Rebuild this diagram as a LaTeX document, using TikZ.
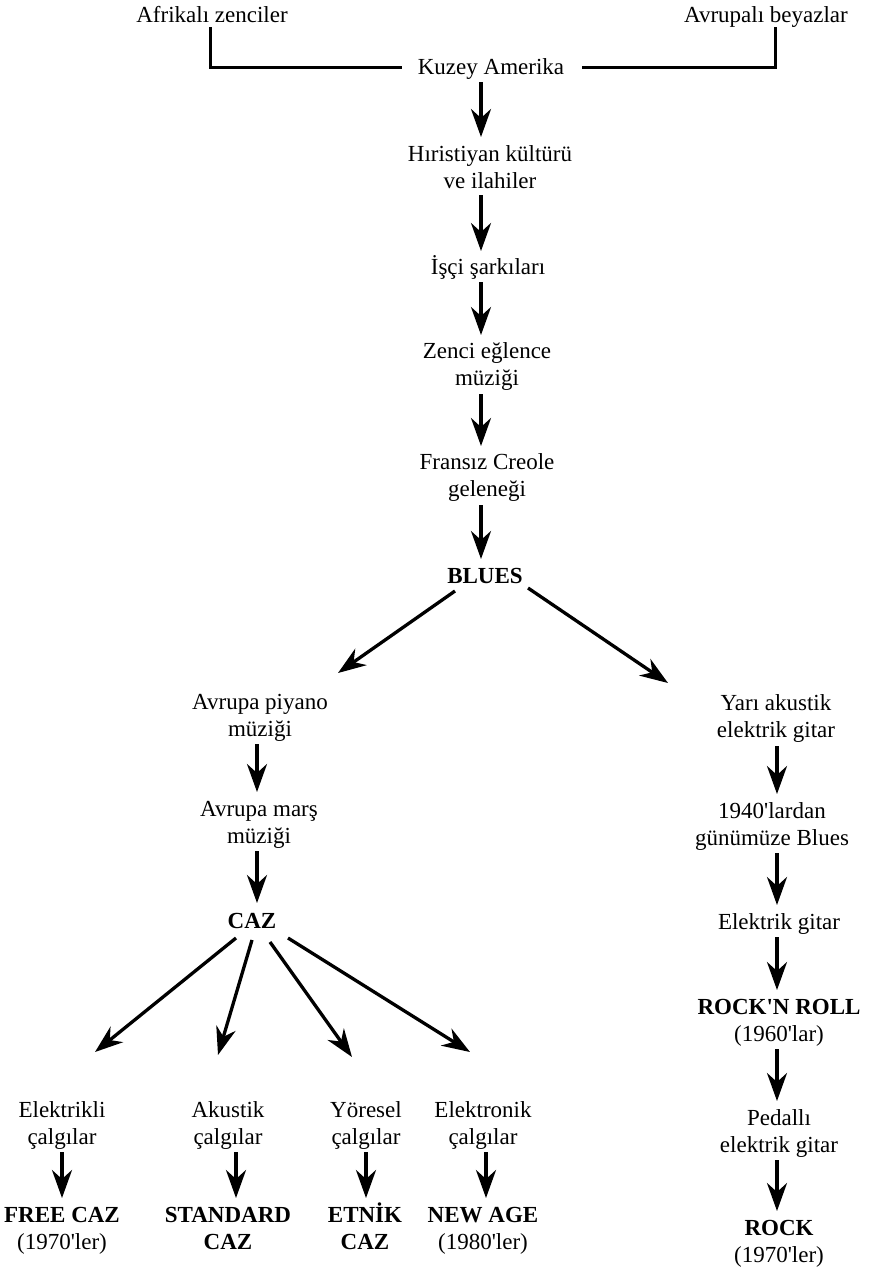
\documentclass[tikz,border=0pt]{standalone}
\usepackage{fontspec}
\newfontfamily\libserif{Liberation Serif}
\usetikzlibrary{arrows.meta}
\begin{document}
\begin{tikzpicture}[x=1pt,y=-1pt,
  font=\libserif\fontsize{23}{27.6}\selectfont,
  lbl/.style={inner sep=0pt, anchor=base, align=flush center},
  two/.style={lbl, text width=240pt},
  ln/.style={line width=3pt, line join=miter},
  arr/.style={line width=3.3pt, -{Stealth[length=28pt,width=20pt,inset=9pt]}}]
\fill[white] (0,0) rectangle (868,1283);
\useasboundingbox (0,0) rectangle (868,1283);
% top
\node[lbl] (afr) at (212,22) {Afrikalı zenciler};
\node[lbl] (avr) at (766,22) {Avrupalı beyazlar};
\node[lbl] (kuz) at (491,74) {Kuzey Amerika};
\draw[ln] ([shift={(-2,5)}]afr.base) |- ([shift={(-89,-7)}]kuz.base);
\draw[ln] ([shift={(91,-7)}]kuz.base) -| ([shift={(9,5)}]avr.base);
% main column
\node[two] (hir) at (490,161) {Hıristiyan kültürü\\ve ilahiler};
\node[lbl] (isci) at (488,274) {İşçi şarkıları};
\node[two] (zen) at (487,358) {Zenci eğlence\\müziği};
\node[two] (fra) at (487,469) {Fransız Creole\\geleneği};
\node[lbl] (blu) at (485,583) {\bfseries BLUES};
\draw[arr] ([shift={(-10,8)}]kuz.base) -- ([shift={(-9,-24)}]hir.base);
\draw[arr] ([shift={(-9,34)}]hir.base) -- ([shift={(-7,-23)}]isci.base);
\draw[arr] ([shift={(-7,8)}]isci.base) -- ([shift={(-6,-23)}]zen.base);
\draw[arr] ([shift={(-6,36)}]zen.base) -- ([shift={(-6,-23)}]fra.base);
\draw[arr] ([shift={(-6,36)}]fra.base) -- ([shift={(-4,-24)}]blu.base);
% left branch
\node[two] (piy) at (260,709) {Avrupa piyano\\müziği};
\node[two] (mar) at (259,816) {Avrupa marş\\müziği};
\node[lbl] (caz) at (252,928) {\bfseries CAZ};
\draw[arr] ([shift={(-30,8)}]blu.base) -- ([shift={(78,-36)}]piy.base);
\draw[arr] ([shift={(-3,35)}]piy.base) -- ([shift={(-2,-24)}]mar.base);
\draw[arr] ([shift={(-2,35)}]mar.base) -- ([shift={(5,-25)}]caz.base);
% right branch
\node[two] (yar) at (776,710) {Yarı akustik\\elektrik gitar};
\node[two] (b40) at (772,818) {1940'lardan\\günümüze Blues};
\node[lbl] (elg) at (779,929) {Elektrik gitar};
\node[two] (rnr) at (779,1014) {\textbf{ROCK'N ROLL}\\(1960'lar)};
\node[two] (ped) at (779,1125) {Pedallı\\elektrik gitar};
\node[two] (rock) at (779,1235) {\textbf{ROCK}\\(1970'ler)};
\draw[arr] ([shift={(43,5)}]blu.base) -- ([shift={(-108,-27)}]yar.base);
\draw[arr] ([shift={(1,36)}]yar.base) -- ([shift={(5,-24)}]b40.base);
\draw[arr] ([shift={(5,35)}]b40.base) -- ([shift={(-2,-24)}]elg.base);
\draw[arr] ([shift={(-2,8)}]elg.base) -- ([shift={(-2,-24)}]rnr.base);
\draw[arr] ([shift={(-2,35)}]rnr.base) -- ([shift={(-2,-24)}]ped.base);
\draw[arr] ([shift={(-2,35)}]ped.base) -- ([shift={(-2,-24)}]rock.base);
% bottom of CAZ
\node[two] (ele) at (62,1117) {Elektrikli\\çalgılar};
\node[two] (aku) at (228,1117) {Akustik\\çalgılar};
\node[two] (yor) at (366,1117) {Yöresel\\çalgılar};
\node[two] (elo) at (483,1117) {Elektronik\\çalgılar};
\node[two] (fre) at (62,1222) {\textbf{FREE CAZ}\\(1970'ler)};
\node[two] (std) at (228,1222) {\textbf{STANDARD}\\\textbf{CAZ}};
\node[two] (etn) at (365,1222) {\textbf{ETNİK}\\\textbf{CAZ}};
\node[two] (new) at (483,1222) {\textbf{NEW AGE}\\(1980'ler)};
\draw[arr] ([shift={(-16,10)}]caz.base) -- ([shift={(33,-65)}]ele.base);
\draw[arr] ([shift={(0,12)}]caz.base) -- ([shift={(-10,-62)}]aku.base);
\draw[arr] ([shift={(18,14)}]caz.base) -- ([shift={(-14,-60)}]yor.base);
\draw[arr] ([shift={(36,10)}]caz.base) -- ([shift={(-13,-65)}]elo.base);
\draw[arr] ([shift={(0,35)}]ele.base) -- ([shift={(0,-24)}]fre.base);
\draw[arr] ([shift={(8,35)}]aku.base) -- ([shift={(8,-24)}]std.base);
\draw[arr] ([shift={(0,35)}]yor.base) -- ([shift={(1,-24)}]etn.base);
\draw[arr] ([shift={(3,35)}]elo.base) -- ([shift={(3,-24)}]new.base);
\end{tikzpicture}
\end{document}
